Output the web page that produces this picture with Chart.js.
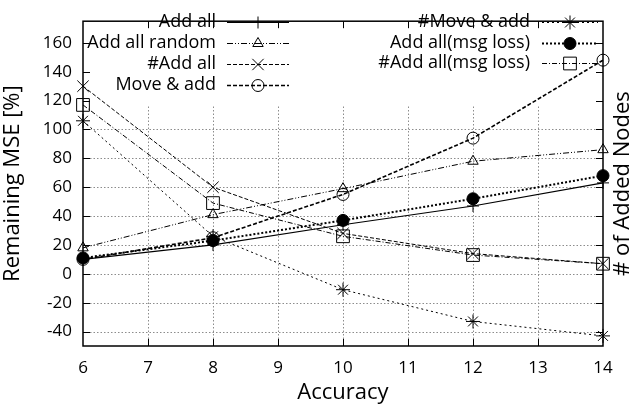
<!DOCTYPE html>
<html>
<head>
<meta charset="utf-8">
<script src="https://cdn.jsdelivr.net/npm/chart.js@4.4.1/dist/chart.umd.min.js"></script>
<style>
  html, body { margin: 0; padding: 0; background: #fff; }
  #wrap { width: 642px; height: 409px; }
</style>
</head>
<body>
<div id="wrap"><canvas id="chart"></canvas></div>
<script>
// values
const accuracy = [6, 8, 10, 12, 14];
const addAll = [10, 20, 34, 47, 63];
const addAllRandom = [18, 41, 59, 78, 86];
const numAddAll = [130, 60, 28, 14, 7];
const moveAdd = [10, 25, 55, 94, 148];
const numMoveAdd = [106, 26, -11, -33, -43];
const addAllLoss = [11, 23, 37, 52, 68];
const numAddAllLoss = [117, 49, 26, 13, 7];

const xTicks = [6, 7, 8, 9, 10, 11, 12, 13, 14];
const yTicks = [-40, -20, 0, 20, 40, 60, 80, 100, 120, 140, 160];

const FONT = '"Open Sans", "Noto Sans", sans-serif';

function pts(vals) {
  return accuracy.map((x, i) => ({ x: x, y: vals[i] }));
}

function series(label, vals, opts) {
  return Object.assign({
    label: label,
    data: pts(vals),
    borderColor: '#000',
    backgroundColor: 'rgba(0,0,0,0)',
    pointBorderColor: '#000',
    borderWidth: 1,
    pointBorderWidth: 1,
    pointRadius: 6,
    tension: 0,
    clip: false
  }, opts);
}

const datasets = [
  series('Add all', addAll, { pointStyle: 'cross', borderWidth: 1.2 }),
  series('Add all random', addAllRandom, { pointStyle: 'triangle', borderDash: [6, 2, 1, 2, 1, 2] }),
  series('#Add all', numAddAll, { pointStyle: 'crossRot', pointRadius: 8, borderDash: [4, 2] }),
  series('Move & add', moveAdd, { pointStyle: 'circle', borderWidth: 1.6, borderDash: [4, 2] }),
  series('#Move & add', numMoveAdd, { pointStyle: 'star', pointRadius: 7, borderDash: [2, 3] }),
  series('Add all(msg loss)', addAllLoss, { pointStyle: 'circle', backgroundColor: '#000', pointBackgroundColor: '#000', borderWidth: 2, borderDash: [2, 2] }),
  series('#Add all(msg loss)', numAddAllLoss, { pointStyle: 'rect', pointRadius: 9, borderDash: [5, 2, 1, 2] })
];

// gnuplot-like frame: dotted grid (hidden behind the key area), inward ticks, box
const frame = {
  id: 'frame',
  beforeDatasetsDraw(chart) {
    const { ctx, chartArea: a, scales: { x, y } } = chart;
    const gridTop = y.getPixelForValue(116);
    ctx.save();
    ctx.strokeStyle = '#8c8c8c';
    ctx.lineWidth = 1;
    ctx.setLineDash([1.5, 2]);
    yTicks.filter(v => v <= 100).forEach(v => {
      const py = Math.round(y.getPixelForValue(v)) + 0.5;
      ctx.beginPath(); ctx.moveTo(a.left, py); ctx.lineTo(a.right, py); ctx.stroke();
    });
    xTicks.slice(1, -1).forEach(v => {
      const px = Math.round(x.getPixelForValue(v)) + 0.5;
      ctx.beginPath(); ctx.moveTo(px, a.bottom); ctx.lineTo(px, gridTop); ctx.stroke();
    });
    ctx.restore();
  },
  afterDatasetsDraw(chart) {
    const { ctx, chartArea: a, scales: { x, y } } = chart;
    ctx.save();
    ctx.strokeStyle = '#000';
    ctx.lineWidth = 1.5;
    ctx.setLineDash([]);
    ctx.strokeRect(a.left, a.top, a.right - a.left, a.bottom - a.top);
    ctx.lineWidth = 1;
    const t = 7;
    yTicks.forEach(v => {
      const py = Math.round(y.getPixelForValue(v)) + 0.5;
      ctx.beginPath();
      ctx.moveTo(a.left, py); ctx.lineTo(a.left + t, py);
      ctx.moveTo(a.right, py); ctx.lineTo(a.right - t, py);
      ctx.stroke();
    });
    xTicks.slice(1, -1).forEach(v => {
      const px = Math.round(x.getPixelForValue(v)) + 0.5;
      ctx.beginPath();
      ctx.moveTo(px, a.bottom); ctx.lineTo(px, a.bottom - t);
      ctx.moveTo(px, a.top); ctx.lineTo(px, a.top + t);
      ctx.stroke();
    });
    ctx.restore();
  },
  afterDraw(chart) {
    const { ctx, chartArea: a } = chart;
    ctx.save();
    // right axis title, reading bottom to top
    ctx.fillStyle = '#000';
    ctx.font = '22px ' + FONT;
    ctx.textAlign = 'center';
    ctx.textBaseline = 'middle';
    ctx.translate(623, (a.top + a.bottom) / 2);
    ctx.rotate(-Math.PI / 2);
    ctx.fillText('# of Added Nodes', 0, 0);
    ctx.restore();

    // two-column key, text right-aligned with sample to the right
    const cols = [
      { textRight: 216, x1: 227, x2: 289, rows: [22, 43, 64, 85], ids: [0, 1, 2, 3] },
      { textRight: 530, x1: 542, x2: 598, rows: [22, 43, 63], ids: [4, 5, 6] }
    ];
    ctx.save();
    ctx.font = '18px ' + FONT;
    ctx.textAlign = 'right';
    ctx.textBaseline = 'middle';
    cols.forEach(col => {
      col.ids.forEach((id, r) => {
        const ds = chart.data.datasets[id];
        const yy = col.rows[r];
        ctx.fillStyle = '#000';
        ctx.fillText(ds.label, col.textRight, yy);
        ctx.strokeStyle = '#000';
        ctx.lineWidth = ds.borderWidth;
        ctx.setLineDash(ds.borderDash || []);
        ctx.beginPath(); ctx.moveTo(col.x1, yy + 0.5); ctx.lineTo(col.x2, yy + 0.5); ctx.stroke();
        ctx.setLineDash([]);
        ctx.lineWidth = ds.pointBorderWidth;
        ctx.fillStyle = ds.pointBackgroundColor || ds.backgroundColor;
        Chart.helpers.drawPoint(ctx, {
          pointStyle: ds.pointStyle, radius: ds.pointRadius, rotation: 0, borderWidth: ds.pointBorderWidth
        }, (col.x1 + col.x2) / 2, yy + 0.5);
      });
    });
    ctx.restore();
  }
};

new Chart(document.getElementById('chart'), {
  type: 'line',
  data: { datasets: datasets },
  plugins: [frame],
  options: {
    responsive: true,
    maintainAspectRatio: false,
    animation: false,
    layout: { autoPadding: false, padding: { top: 8, right: 39, left: 0, bottom: 0 } },
    plugins: { legend: { display: false }, tooltip: { enabled: false } },
    scales: {
      x: {
        type: 'linear',
        min: 6, max: 14,
        afterBuildTicks: s => { s.ticks = xTicks.map(v => ({ value: v })); },
        afterFit: s => { s.height = 63; },
        grid: { display: false, drawTicks: false },
        border: { display: false },
        ticks: { color: '#000', padding: 12, font: { family: FONT, size: 17 } },
        title: { display: true, text: 'Accuracy', color: '#000', padding: { top: 0, bottom: 3 }, font: { family: FONT, size: 22 } }
      },
      y: {
        min: -50, max: 175,
        afterBuildTicks: s => { s.ticks = yTicks.map(v => ({ value: v })); },
        afterFit: s => { s.width = 83; },
        grid: { display: false, drawTicks: false },
        border: { display: false },
        ticks: { color: '#000', padding: 11, font: { family: FONT, size: 17 } },
        title: { display: true, text: 'Remaining MSE [%]', color: '#000', padding: { top: 0, bottom: 8 }, font: { family: FONT, size: 22 } }
      }
    }
  }
});
</script>
</body>
</html>
